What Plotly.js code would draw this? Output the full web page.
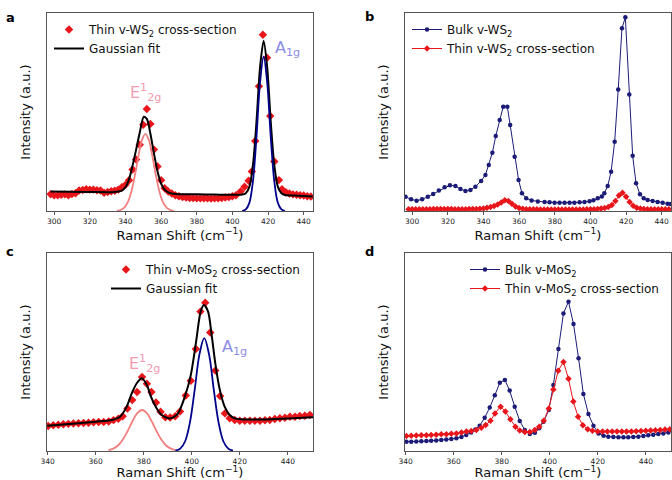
<!DOCTYPE html>
<html>
<head>
<meta charset="utf-8">
<script src="https://cdn.plot.ly/plotly-3.0.1.min.js"></script>
<style>
  html, body { margin: 0; padding: 0; background: #fff; }
  #chart { width: 672px; height: 480px; }
</style>
</head>
<body>
<div id="chart"></div>
<script>
// panel a: thin v-WS2 cross-section with gaussian fit
var aThinX = [298,300,302,304,306,308,310,312,314,316,318,320,322,324,326,328,330,332,334,336,338,340,342,344,346,348,350,352,354,356,358,360,362,364,366,368,370,372,374,376,378,380,382,384,386,388,390,392,394,396,398,400,402,404.6,406.8,409.1,410.9,412.8,414.9,417.1,419.4,421.2,423.5,426.1,427.8,430,432,434,436,438,440,442,444];
var aThinY = [8.5,8.0,8.0,8.2,8.4,8.0,8.6,9.0,10.4,10.6,11.0,10.8,10.8,10.5,10.4,9.2,9.6,10.0,10.2,10.8,12.0,13.2,15.5,21,26,33.5,43.5,51.5,44.0,31,22.5,15.5,11.5,9.8,8.8,8.0,7.4,7.0,6.8,6.6,6.5,6.4,6.4,6.4,6.4,6.3,6.4,6.4,6.6,6.8,7.0,7.4,8.0,9.8,12.3,15.3,19.9,35.4,63,89,77.4,48,25,15.6,11,9.5,8.8,8.4,8.2,8,7.8,7.5,7.3];
var aFitX = [298,310,320,330,334,336,338,340,342,344,346,348,350.3,352,354,356,358,360,362,364,366,370,380,390,400,405.5,407.5,409.5,411.5,413.5,415.5,417.5,419.5,421.5,423.5,425.5,427.5,429.5,435,445];
var aFitY = [9.8,9.7,9.6,9.5,9.6,9.8,10.3,12,16,23,31,39.5,47.6,46.5,39,29,20,13.8,10.8,9.4,8.8,8.5,8.4,8.3,8.2,8.3,9,12.2,23,45,72.5,86,72.5,45,23,12.2,9,8.1,7.8,7.3];
var aE2gX = [335.2,337.2,339.2,341.2,343.2,345.2,347.2,349.2,351.2,353.2,355.2,357.2,359.2,361.2,363.2,365.2,367.2];
var aE2gY = [0.1,0.5,1.6,4.2,9.4,17.5,27.3,35.7,39,35.7,27.3,17.5,9.4,4.2,1.6,0.5,0.1];
var aA1gX = [405.5,407.5,409.5,411.5,413.5,415.5,417.5,419.5,421.5,423.5,425.5,427.5,429.5];
var aA1gY = [0.1,0.8,4.1,15,37.4,64.9,78,64.9,37.4,15,4.1,0.8,0.1];

// panel b: bulk vs thin v-WS2
var bBulkX = [296.3,299.4,302.5,305.6,308.8,311.8,315,318.2,321.2,324.3,327.1,329.9,332.7,335.5,338.7,341.1,343,345,346.9,349.1,351.1,353.4,355,357.5,359.7,361.6,364,367,370.5,374.3,377.1,379.9,382.7,385.5,388.3,391,393.9,396.7,399.5,401.7,404.1,406.4,407.8,409.7,411.6,413.6,415.6,417.7,419.6,421.8,423.7,425.6,427.8,429.9,432.1,434.9,437.7,440.5,443.3,445.1];
var bBulkY = [7.2,5.9,5.2,5.9,7.2,8.6,10.3,12,13,12.6,11.1,10.1,10.6,12.3,15.2,18.2,23.2,29.4,37.9,46,52.7,52.7,43.4,27.4,15.7,9,6.5,5.3,4.8,4.5,4.4,4.2,4.2,4.2,4.2,4.2,4.4,4.5,4.9,5.4,6.4,7.3,9,12.6,19.8,35,61.4,92.3,97.8,58.9,27.9,14,8.4,6.4,5.6,5.1,4.5,4.2,3.7,3.5];
var bThinX = [298,300,302,304,306,308,310,312,314,316,318,320,322,324,326,328,330,332,334,336,338,340,342,344,346,348,350,352,354,356,358,360,362,364,366,368,370,372,374,376,378,380,382,384,386,388,390,392,394,396,398,400,402,404,406,408,410,412,414,416,418,420,422,424,426,428,430,432,434,436,438,440,442,444];
var bThinY = [0.9,0.9,0.9,0.9,0.9,0.9,0.9,1.0,1.0,1.0,1.0,1.0,1.0,0.9,0.9,0.9,0.9,1.0,1.0,1.0,1.1,1.3,1.6,2.0,2.5,3.3,4.3,5.4,5.0,3.6,2.3,1.5,1.1,0.9,0.9,0.9,0.9,0.8,0.8,0.8,0.8,0.8,0.8,0.8,0.8,0.8,0.8,0.8,0.8,0.8,0.9,0.9,0.9,1.0,1.2,1.5,2.0,3.0,5.0,7.8,9.2,7.2,4.5,2.6,1.6,1.2,1.0,0.9,0.9,0.9,0.9,0.9,0.9,0.9];

// panel c: thin v-MoS2 cross-section with gaussian fit
var cThinX = [340.2,342.3,344.4,346.5,348.6,350.7,352.8,354.9,357,359.1,361.2,363.3,365.4,367.4,369.4,371.2,373.2,375.2,377.2,379.3,381.3,383.2,385.1,387,389,391,393.1,395.1,397.5,399.6,401.7,403.6,405.6,407.7,409.8,411.8,413.8,415.8,417.9,420,422.1,424.2,426.3,428.4,430.5,432.5,434.6,436.7,438.8,440.9,443,445,447.1,449.2];
var cThinY = [12.6,13,13.3,13.5,13.7,13.9,14,14.1,14.3,14.5,14.6,14.6,14.9,15.6,16.3,17.5,21.5,25.7,29.8,37.4,34,29.8,24.5,19.8,17,16.9,17.5,20,28,35.5,51.5,70.4,74.9,59.8,40.6,27.8,19,16.5,15.7,15.3,15.3,15.3,15.3,15.3,15.5,15.7,16.2,16.5,16.8,17.3,17.3,17.7,17.8,18.2];
var cFitX = [339.8,345,352.8,360,366.7,370.1,372.9,375,377.1,379.2,381.3,383,385.4,387.5,390.3,392.3,394.3,397.1,399.6,401.9,403.7,405.1,406.8,408.2,409.8,411.7,413.7,415.8,417.9,420.7,430,440,450.5];
var cFitY = [12.8,13.3,14,14.8,15.7,17.3,22.4,29.1,34.2,36.7,33.3,27.4,21.5,18.2,16.5,17,19,27.4,38.4,56,70.4,73.7,70.4,59.4,44.3,30.8,22.4,18.2,16.5,16,15.9,16.4,17];
var cE2gX = [365.3,367.3,369.3,371.3,373.3,375.3,377.3,379.3,381.3,383.3,385.3,387.3,389.3,391.3,393.3];
var cE2gY = [0.4,1.2,2.8,5.8,10.1,15,19.1,20.7,19.1,15,10.1,5.8,2.8,1.2,0.4];
var cA1gX = [393.2,395.2,397.2,399.2,401.2,403.2,405.2,407.2,409.2,411.2,413.2,415.2,417.2];
var cA1gY = [0.2,1.2,4.8,14.2,30.7,48.8,57,48.8,30.7,14.2,4.8,1.2,0.2];

// panel d: bulk vs thin v-MoS2
var dBulkX = [340.3,342.3,344.4,346.5,348.6,350.6,352.7,354.8,356.9,359,361.1,363.2,365.2,367.2,369,370.8,372.9,375,377.1,379.2,381.3,383.3,385.4,387.5,389.6,391.7,393.8,395.6,397.4,399.6,401.5,403.6,405.7,407.8,409.9,412,414,416.1,418.2,420.3,422.4,424.4,426.5,428.6,430.7,432.7,434.8,436.9,439,441,443.1,445.2,447.3,449.4];
var dBulkY = [4.7,4.7,4.8,4.9,5,5.2,5.3,5.6,5.8,6.1,6.4,7.1,8.1,9.3,10.8,12.8,16.8,22,28.1,34.5,35.9,30.5,22.4,15.2,10.6,8.6,9.2,11.5,14.8,20.7,33.3,51.5,69.5,75.4,64.1,46.8,28.8,18.7,12.8,8.9,7.7,7.2,7.1,6.9,6.9,6.9,7.1,7.2,7.6,7.9,8.2,8.6,8.9,9.3];
var dThinX = [340.3,342.3,344.4,346.5,348.6,350.6,352.7,354.8,356.9,359,361.1,363.2,365.3,367.3,369.4,371.5,373.3,375.3,377.2,379.5,381.5,383.6,385.7,387.5,389.6,391.7,393.8,395.6,397.5,399.6,401.5,403.5,405.7,407.8,409.8,411.8,413.8,415.8,417.8,420,422,424,426,428,430,432,434,436,438,440,442,444,446,448,450];
var dThinY = [7.6,7.7,7.8,7.9,8,8.1,8.2,8.4,8.5,8.7,8.9,9.3,9.8,10.1,10.6,11.8,13.1,15.3,19,22.4,19.9,16,12.3,10.3,9.6,9.6,10.6,12.3,15.3,21.5,31,40.5,45,36.5,25,17.3,13,11,10.2,9.9,9.8,9.8,9.8,9.8,9.8,9.9,9.9,10,10.1,10.2,10.3,10.5,10.6,10.8,11];

var wsTicks = [300, 320, 340, 360, 380, 400, 420, 440];
var moTicks = [340, 360, 380, 400, 420, 440];

var red = "#e8161b";
var navy = "#1c1c78";
var font = "DejaVu Sans";

function xAxis(domain, range, ticks, anchor) {
  return {
    domain: domain, range: range, anchor: anchor,
    tickvals: ticks, ticks: "outside", ticklen: 3, tickcolor: "#555",
    tickfont: { family: font, size: 7.5, color: "#222" },
    showline: true, mirror: true, linecolor: "#555", linewidth: 1,
    showgrid: false, zeroline: false,
    title: { text: "Raman Shift (cm<sup>\u22121</sup>)", font: { family: font, size: 13, color: "#111" }, standoff: 5 }
  };
}
function yAxis(domain, anchor) {
  return {
    domain: domain, range: [0, 100], anchor: anchor,
    showticklabels: false, ticks: "",
    showline: true, mirror: true, linecolor: "#555", linewidth: 1,
    showgrid: false, zeroline: false,
    title: { text: "Intensity (a.u.)", font: { family: font, size: 13, color: "#111" }, standoff: 12 }
  };
}
function legendAt(x, y) {
  return { x: x, y: y, xanchor: "left", yanchor: "top", bgcolor: "rgba(0,0,0,0)",
    font: { family: font, size: 12, color: "#111" } };
}

var traces = [
  { x: aThinX, y: aThinY, mode: "markers", name: "Thin v-WS<sub>2</sub> cross-section",
    marker: { symbol: "diamond", size: 6.5, color: red }, xaxis: "x", yaxis: "y", legend: "legend" },
  { x: aFitX, y: aFitY, mode: "lines", name: "Gaussian fit", line: { color: "#000", width: 2, shape: "spline", smoothing: 0.8 },
    xaxis: "x", yaxis: "y", legend: "legend" },
  { x: aE2gX, y: aE2gY, mode: "lines", showlegend: false, line: { color: "#f08080", width: 1.8, shape: "spline" }, xaxis: "x", yaxis: "y" },
  { x: aA1gX, y: aA1gY, mode: "lines", showlegend: false, line: { color: "#00008b", width: 1.8, shape: "spline" }, xaxis: "x", yaxis: "y" },

  { x: bBulkX, y: bBulkY, mode: "lines+markers", name: "Bulk v-WS<sub>2</sub>",
    line: { color: navy, width: 1 }, marker: { symbol: "circle", size: 4.5, color: navy }, xaxis: "x2", yaxis: "y2", legend: "legend2" },
  { x: bThinX, y: bThinY, mode: "lines+markers", name: "Thin v-WS<sub>2</sub> cross-section",
    line: { color: red, width: 1 }, marker: { symbol: "diamond", size: 5, color: red }, xaxis: "x2", yaxis: "y2", legend: "legend2" },

  { x: cThinX, y: cThinY, mode: "markers", name: "Thin v-MoS<sub>2</sub> cross-section",
    marker: { symbol: "diamond", size: 6.5, color: red }, xaxis: "x3", yaxis: "y3", legend: "legend3" },
  { x: cFitX, y: cFitY, mode: "lines", name: "Gaussian fit", line: { color: "#000", width: 2, shape: "spline", smoothing: 0.8 },
    xaxis: "x3", yaxis: "y3", legend: "legend3" },
  { x: cE2gX, y: cE2gY, mode: "lines", showlegend: false, line: { color: "#f08080", width: 1.8, shape: "spline" }, xaxis: "x3", yaxis: "y3" },
  { x: cA1gX, y: cA1gY, mode: "lines", showlegend: false, line: { color: "#00008b", width: 1.8, shape: "spline" }, xaxis: "x3", yaxis: "y3" },

  { x: dBulkX, y: dBulkY, mode: "lines+markers", name: "Bulk v-MoS<sub>2</sub>",
    line: { color: navy, width: 1 }, marker: { symbol: "circle", size: 4.5, color: navy }, xaxis: "x4", yaxis: "y4", legend: "legend4" },
  { x: dThinX, y: dThinY, mode: "lines+markers", name: "Thin v-MoS<sub>2</sub> cross-section",
    line: { color: red, width: 1 }, marker: { symbol: "diamond", size: 5, color: red }, xaxis: "x4", yaxis: "y4", legend: "legend4" }
];

var colLeft = [47 / 672, 313 / 672];
var colRight = [405 / 672, 671 / 672];
var rowTop = [1 - 211 / 480, 1 - 13 / 480];
var rowBottom = [1 - 451 / 480, 1 - 253 / 480];

var pink = "#f29bb0";
var lilac = "#8c8ce6";

var layout = {
  width: 672, height: 480,
  margin: { l: 0, r: 0, t: 0, b: 0 },
  paper_bgcolor: "#fff", plot_bgcolor: "#fff",
  font: { family: font, color: "#111" },
  xaxis: xAxis(colLeft, [296, 445.2], wsTicks, "y"),
  yaxis: yAxis(rowTop, "x"),
  xaxis2: xAxis(colRight, [296, 445.2], wsTicks, "y2"),
  yaxis2: yAxis(rowTop, "x2"),
  xaxis3: xAxis(colLeft, [339.7, 450.5], moTicks, "y3"),
  yaxis3: yAxis(rowBottom, "x3"),
  xaxis4: xAxis(colRight, [339.7, 450.5], moTicks, "y4"),
  yaxis4: yAxis(rowBottom, "x4"),
  legend: legendAt(49 / 672, 1 - 15 / 480),
  legend2: legendAt(407 / 672, 1 - 15 / 480),
  legend3: legendAt(106 / 672, 1 - 255 / 480),
  legend4: legendAt(465 / 672, 1 - 255 / 480),
  annotations: [
    { text: "<b>a</b>", xref: "paper", yref: "paper", x: 4 / 672, y: 1 - 8 / 480, showarrow: false, font: { size: 13, family: font, color: "#000" } },
    { text: "<b>b</b>", xref: "paper", yref: "paper", x: 369 / 672, y: 1 - 7 / 480, showarrow: false, font: { size: 13, family: font, color: "#000" } },
    { text: "<b>c</b>", xref: "paper", yref: "paper", x: 4 / 672, y: 1 - 251 / 480, showarrow: false, font: { size: 13, family: font, color: "#000" } },
    { text: "<b>d</b>", xref: "paper", yref: "paper", x: 369 / 672, y: 1 - 251 / 480, showarrow: false, font: { size: 13, family: font, color: "#000" } },
    { text: "E<sup>1</sup><sub>2g</sub>", xref: "x", yref: "y", x: 351, y: 59.6, showarrow: false, font: { size: 16, family: font, color: pink } },
    { text: "A<sub>1g</sub>", xref: "x", yref: "y", x: 431, y: 82.3, showarrow: false, font: { size: 16, family: font, color: lilac } },
    { text: "E<sup>1</sup><sub>2g</sub>", xref: "x3", yref: "y3", x: 380.2, y: 44.3, showarrow: false, font: { size: 16, family: font, color: pink } },
    { text: "A<sub>1g</sub>", xref: "x3", yref: "y3", x: 417.7, y: 52.4, showarrow: false, font: { size: 16, family: font, color: lilac } }
  ]
};

Plotly.newPlot("chart", traces, layout, { displayModeBar: false, staticPlot: true });
</script>
</body>
</html>
